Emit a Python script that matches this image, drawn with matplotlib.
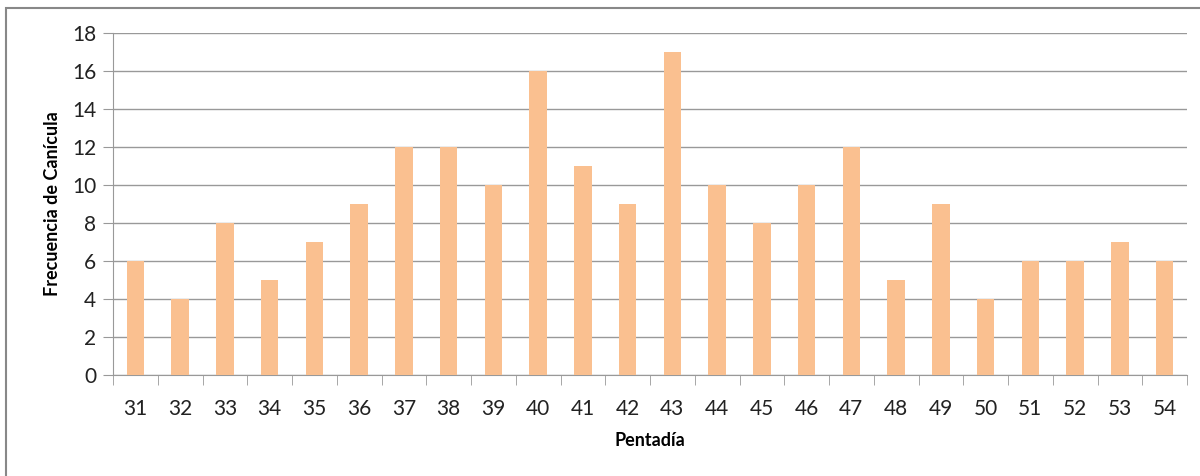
import numpy as np
import matplotlib.pyplot as plt
from matplotlib.patches import Rectangle

pentadias = ['31', '32', '33', '34', '35', '36', '37', '38', '39', '40', '41', '42',
             '43', '44', '45', '46', '47', '48', '49', '50', '51', '52', '53', '54']
frecuencia = [6, 4, 8, 5, 7, 9, 12, 12, 10, 16, 11, 9, 17, 10, 8, 10, 12, 5, 9, 4, 6, 6, 7, 6]

plt.rcParams['font.family'] = ['Lato', 'DejaVu Sans']

fig = plt.figure(figsize=(12, 4.76), dpi=100)
ax = fig.add_axes([113/1200, 1 - 375/476, (1187 - 113)/1200, (375 - 33)/476])

x = np.arange(len(pentadias))
ax.bar(x, frecuencia, width=0.39, color='#FAC090', zorder=3)

ax.set_xlim(-0.5, len(pentadias) - 0.5)
ax.set_ylim(0, 18)
ax.set_yticks(range(0, 19, 2))
ax.set_xticks(x)
ax.set_xticklabels(pentadias)
ax.set_xticks(np.arange(-0.5, len(pentadias), 1), minor=True)
ax.tick_params(axis='x', which='major', length=0, pad=17, labelsize=15, colors='#222222')
ax.tick_params(axis='x', which='minor', length=7, color='#999999', direction='out')
ax.tick_params(axis='y', length=7, color='#999999', labelsize=15, labelcolor='#222222', pad=5)

ax.grid(axis='y', color='#999999', linewidth=1, zorder=0)
for s in ['top', 'right']:
    ax.spines[s].set_visible(False)
ax.spines['left'].set_color('#999999')
ax.spines['bottom'].set_color('#999999')

ax.set_xlabel('Pentadía', fontsize=13, fontweight='bold', labelpad=10)
ax.set_ylabel('Frecuencia de Canícula', fontsize=13, fontweight='bold', labelpad=8)

# borde exterior del grafico
fig.patches.append(Rectangle((6/1200, -0.02), 1.1, 1 - 8/476 + 0.02, transform=fig.transFigure,
                             fill=False, edgecolor='#888888', linewidth=1.5))

fig.savefig('out.png', dpi=100)
